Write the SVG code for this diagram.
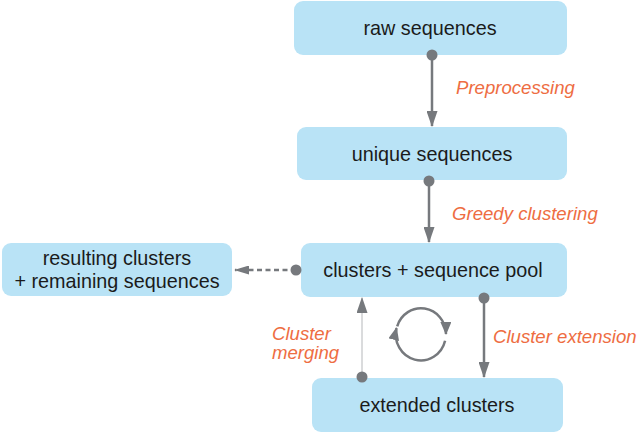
<svg xmlns="http://www.w3.org/2000/svg" width="638" height="435" viewBox="0 0 638 435">
<defs>
<style>
.box{fill:#b9e3f6;}
.lbl{font-family:"Liberation Sans",Arial,sans-serif;font-size:19.8px;fill:#1b1b1b;text-anchor:middle;}
.edge{font-family:"Liberation Sans",Arial,sans-serif;font-size:18.6px;font-style:italic;fill:#ee6d42;}
.ln{stroke:#76797d;stroke-width:2.5;fill:none;}
.dot{fill:#76797d;}
</style>
<marker id="ah" markerUnits="userSpaceOnUse" markerWidth="16" markerHeight="11" viewBox="0 0 16 11" refX="15" refY="5.5" orient="auto">
<path d="M0,0 L16,5.5 L0,11 Z" fill="#76797d"/>
</marker>
<marker id="ahs" markerUnits="userSpaceOnUse" markerWidth="15" markerHeight="9" viewBox="0 0 15 9" refX="14" refY="4.5" orient="auto">
<path d="M0,0 L15,4.5 L0,9 Z" fill="#76797d"/>
</marker>
<marker id="ahl" markerUnits="userSpaceOnUse" markerWidth="13" markerHeight="11" viewBox="0 0 13 11" refX="12" refY="5.5" orient="auto">
<path d="M0,0 L13,5.5 L0,11 Z" fill="#76797d"/>
</marker>
</defs>
<rect width="638" height="435" fill="#ffffff"/>
<g id="raw">
<rect class="box" x="294" y="1" width="273" height="54" rx="9"/>
<text class="lbl" x="430" y="35">raw sequences</text>
</g>
<g id="unique">
<rect class="box" x="297" y="127" width="270" height="53" rx="9"/>
<text class="lbl" x="432" y="161">unique sequences</text>
</g>
<g id="pool">
<rect class="box" x="301" y="243" width="266" height="54" rx="9"/>
<text class="lbl" x="433" y="277">clusters + sequence pool</text>
</g>
<g id="result">
<rect class="box" x="2" y="243" width="230" height="53" rx="9"/>
<text class="lbl" x="117" y="265">resulting clusters</text>
<text class="lbl" x="117" y="288">+ remaining sequences</text>
</g>
<g id="extended">
<rect class="box" x="312" y="378" width="251" height="54" rx="9"/>
<text class="lbl" x="437" y="412">extended clusters</text>
</g>
<g id="connectors">
<line class="ln" x1="432" y1="55" x2="432" y2="126" marker-end="url(#ah)"/>
<circle class="dot" cx="432" cy="55" r="5.5"/>
<line class="ln" x1="429" y1="181" x2="429" y2="242" marker-end="url(#ah)"/>
<circle class="dot" cx="429" cy="181" r="5.5"/>
<line class="ln" x1="296" y1="270" x2="235" y2="270" stroke-dasharray="5,3.5" marker-end="url(#ahs)"/>
<circle class="dot" cx="296" cy="270" r="5.5"/>
<line class="ln" x1="484" y1="298" x2="484" y2="377" marker-end="url(#ah)"/>
<circle class="dot" cx="484" cy="298" r="5.5"/>
<line x1="362" y1="377" x2="362" y2="298" stroke="#b5b7ba" stroke-width="1" marker-end="url(#ah)"/>
<circle class="dot" cx="362" cy="377" r="5.5"/>
<path class="ln" d="M397.2,326.3 A25,26 0 0 1 446,334" marker-end="url(#ahl)"/>
<path class="ln" d="M445.1,340.7 A25,26 0 0 1 396.5,328" marker-end="url(#ahl)"/>
</g>
<g id="labels">
<text class="edge" x="456" y="94">Preprocessing</text>
<text class="edge" x="452" y="220">Greedy clustering</text>
<text class="edge" x="493" y="343">Cluster extension</text>
<text class="edge" x="272" y="340">Cluster</text>
<text class="edge" x="272" y="359">merging</text>
</g>
</svg>
